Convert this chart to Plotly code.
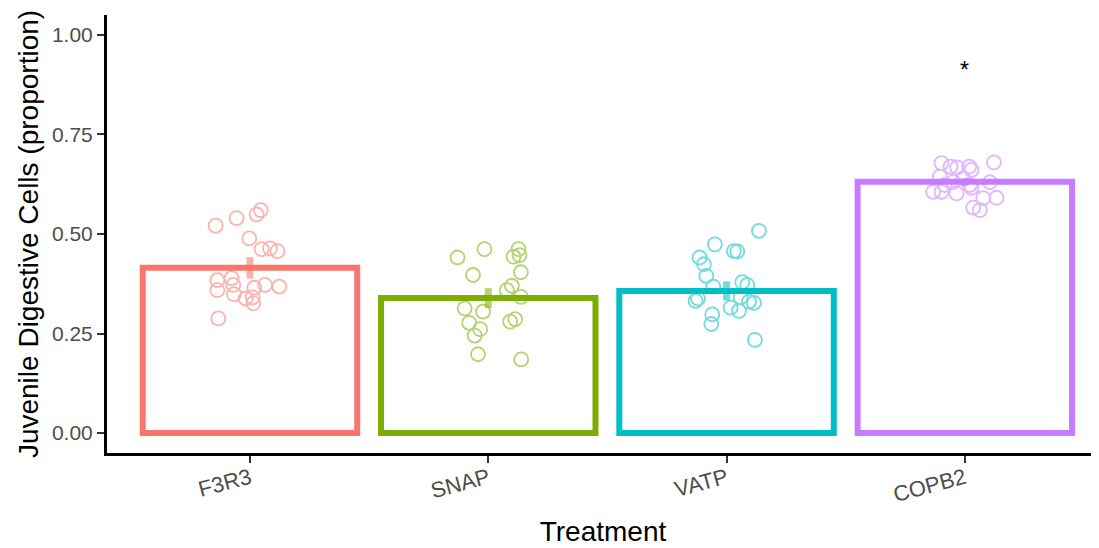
import plotly.graph_objects as go

categories = ["F3R3", "SNAP", "VATP", "COPB2"]
colors = ["#F8766D", "#7CAE00", "#00BFC4", "#C77CFF"]
bar_means = [0.415, 0.339, 0.357, 0.631]
bar_se = [0.027, 0.025, 0.024, 0.010]

f3r3_vals = [0.521, 0.540, 0.549, 0.560, 0.489, 0.462, 0.464, 0.457, 0.384, 0.389,
             0.359, 0.372, 0.349, 0.365, 0.372, 0.368, 0.338, 0.341, 0.326, 0.288]
f3r3_jit = [-0.144, -0.056, 0.028, 0.045, -0.003, 0.049, 0.084, 0.115, -0.137, -0.077,
            -0.137, -0.070, -0.067, 0.018, 0.063, 0.123, -0.018, 0.011, 0.014, -0.133]

snap_vals = [0.441, 0.462, 0.462, 0.443, 0.447, 0.397, 0.404, 0.370, 0.359, 0.342,
             0.313, 0.305, 0.277, 0.261, 0.245, 0.280, 0.286, 0.198, 0.185]
snap_jit = [-0.129, -0.016, 0.127, 0.106, 0.131, -0.064, 0.137, 0.099, 0.078, 0.137,
            -0.099, -0.022, -0.080, -0.034, -0.057, 0.092, 0.113, -0.043, 0.138]

vatp_vals = [0.508, 0.474, 0.457, 0.456, 0.441, 0.424, 0.395, 0.368, 0.379, 0.372,
             0.338, 0.332, 0.341, 0.330, 0.327, 0.315, 0.307, 0.298, 0.274, 0.234]
vatp_jit = [0.136, -0.049, 0.031, 0.045, -0.113, -0.095, -0.085, -0.056, 0.066, 0.087,
            -0.120, -0.130, 0.059, 0.094, 0.115, 0.017, 0.052, -0.060, -0.064, 0.119]

copb2_vals = [0.678, 0.669, 0.667, 0.669, 0.661, 0.680, 0.644, 0.631, 0.640, 0.623,
              0.630, 0.606, 0.606, 0.602, 0.616, 0.590, 0.591, 0.566, 0.560, 0.623]
copb2_jit = [-0.098, -0.060, -0.032, 0.018, 0.028, 0.122, -0.105, -0.049, -0.007, 0.021,
             0.105, -0.133, -0.098, -0.035, 0.028, 0.077, 0.133, 0.035, 0.063, -0.084]

point_vals = [f3r3_vals, snap_vals, vatp_vals, copb2_vals]
point_jit = [f3r3_jit, snap_jit, vatp_jit, copb2_jit]

sig_labels = ["", "", "", "*"]
sig_y = [None, None, None, 0.912]

fig = go.Figure()

fig.add_trace(go.Bar(
    x=list(range(len(categories))), y=bar_means, width=0.9,
    marker=dict(color="rgba(0,0,0,0)", line=dict(color=colors, width=6)),
    showlegend=False, hoverinfo="skip"))

for i, (vals, jit) in enumerate(zip(point_vals, point_jit)):
    fig.add_trace(go.Scatter(
        x=[i + j for j in jit], y=vals, mode="markers",
        marker=dict(symbol="circle-open", size=14, color=colors[i],
                    line=dict(width=1.8, color=colors[i])),
        opacity=0.55, showlegend=False))

for i, (m, s) in enumerate(zip(bar_means, bar_se)):
    fig.add_trace(go.Scatter(
        x=[i, i], y=[m - s, m + s], mode="lines",
        line=dict(color=colors[i], width=7), opacity=0.55, showlegend=False))

for i, (lab, yy) in enumerate(zip(sig_labels, sig_y)):
    if lab:
        fig.add_annotation(x=i, y=yy, text=lab, showarrow=False,
                           font=dict(size=23, color="black", family="Liberation Sans"))

fig.update_layout(
    width=1091, height=540, plot_bgcolor="white", paper_bgcolor="white",
    margin=dict(l=99, r=0, t=7, b=95, autoexpand=False),
    font=dict(family="Liberation Sans, Arial, sans-serif"),
    xaxis=dict(range=[-0.6, 3.563], tickmode="array", tickvals=list(range(len(categories))),
               ticktext=categories, tickangle=-15, showline=True, linecolor="black",
               linewidth=3, ticks="outside", ticklen=7, tickwidth=2, tickcolor="#333333",
               tickfont=dict(size=22, color="#4D4D4D"), showgrid=False, zeroline=False,
               automargin=False, ticklabelstandoff=-6,
               title=dict(text="Treatment", font=dict(size=28, color="black"), standoff=16)),
    yaxis=dict(range=[-0.05, 1.05], tickvals=[0, 0.25, 0.5, 0.75, 1.0],
               ticktext=["0.00", "0.25", "0.50", "0.75", "1.00"],
               showline=True, linecolor="black", linewidth=3, ticks="outside",
               ticklen=7, tickwidth=2, tickcolor="#333333", automargin=False,
               tickfont=dict(size=21, color="#4D4D4D"), showgrid=False, zeroline=False,
               title=dict(text="Juvenile Digestive Cells (proportion)",
                          font=dict(size=28, color="black"), standoff=6)),
)

fig.write_html("out.html")
